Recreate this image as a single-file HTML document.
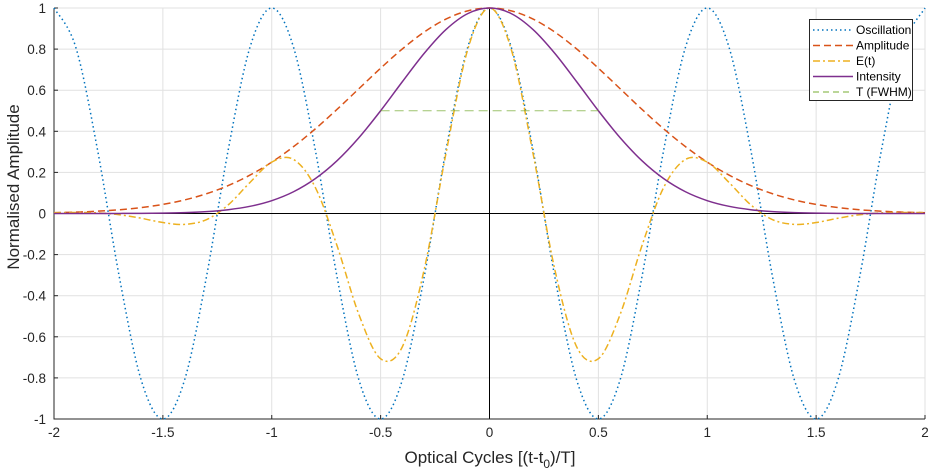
<!DOCTYPE html>
<html><head><meta charset="utf-8"><style>
html,body{margin:0;padding:0;background:#fff;}
svg{display:block;font-family:"Liberation Sans",sans-serif;}
</style></head><body>
<svg id="chart" width="936" height="474" viewBox="0 0 936 474" xmlns="http://www.w3.org/2000/svg">
<g id="grid"></g>
<g id="axes"></g>
<g id="series"></g>
<text x="490" y="463" font-size="17" fill="#262626" text-anchor="middle">Optical Cycles [(t-t<tspan font-size="12" dy="5">0</tspan><tspan dy="-5">)/T]</tspan></text>
<text transform="translate(19,187) rotate(-90)" font-size="17" fill="#262626" text-anchor="middle">Normalised Amplitude</text>
<g id="legend"></g>
</svg>
<script>
const tVals=[-2,-1.9,-1.8,-1.7,-1.6,-1.5,-1.4,-1.3,-1.2,-1.1,-1,-0.9,-0.8,-0.7,-0.6,-0.5,-0.4,-0.3,-0.2,-0.1,0,0.1,0.2,0.3,0.4,0.5,0.6,0.7,0.8,0.9,1,1.1,1.2,1.3,1.4,1.5,1.6,1.7,1.8,1.9,2];
const oscHalf=[1,0.809,0.309,-0.309,-0.809,-1,-0.809,-0.309,0.309,0.809,1,0.809,0.309,-0.309,-0.809,-1,-0.809,-0.309,0.309,0.809,1];
const ampHalf=[1,0.9862,0.9461,0.8827,0.8011,0.7071,0.6071,0.5069,0.4118,0.3253,0.25,0.1869,0.1359,0.0961,0.066,0.0442,0.0288,0.0182,0.0112,0.0067,0.0039];
const eHalf=[1,0.798,0.292,-0.273,-0.648,-0.707,-0.491,-0.157,0.127,0.263,0.25,0.151,0.042,-0.030,-0.053,-0.044,-0.023,-0.006,0.003,0.005,0.004];
const intHalf=[1,0.9727,0.895,0.7792,0.6417,0.5,0.3686,0.257,0.1696,0.1058,0.0625,0.0349,0.0185,0.0092,0.0044,0.002,0.0008,0.0003,0.0001,0,0];
const fwhmT=[-0.5,0.5];
const fwhmV=[0.5,0.5];
const xTicks=[-2,-1.5,-1,-0.5,0,0.5,1,1.5,2];
const yTicks=[-1,-0.8,-0.6,-0.4,-0.2,0,0.2,0.4,0.6,0.8,1];
function full(h){return h.slice(1).reverse().concat(h);}
const osc=full(oscHalf),amp=full(ampHalf),eT=full(eHalf),inten=full(intHalf);
const X0=54,X1=925,Y0=419,Y1=8;
const sx=t=>X0+(t+2)/4*(X1-X0);
const sy=v=>Y0-(v+1)/2*(Y0-Y1);
const NS='http://www.w3.org/2000/svg';
function mk(tag,attrs,parent){const e=document.createElementNS(NS,tag);for(const k in attrs)e.setAttribute(k,attrs[k]);parent.appendChild(e);return e;}
const grid=document.getElementById('grid'),axes=document.getElementById('axes'),ser=document.getElementById('series'),leg=document.getElementById('legend');
xTicks.forEach(t=>{
 const l=mk('line',{x1:sx(t),x2:sx(t),y1:Y1,y2:Y0,stroke:'#e1e1e1','stroke-width':1},grid);
 
 
 const tk=mk('line',{x1:sx(t),x2:sx(t),y1:Y0,y2:Y0-4,stroke:'#262626'},axes);
 
 
 const tx=mk('text',{x:sx(t),y:Y0+18,'font-size':13.5,fill:'#262626','text-anchor':'middle'},axes);
 tx.textContent=String(t);
 
 
});
yTicks.forEach(v=>{
 const l=mk('line',{x1:X0,x2:X1,y1:sy(v),y2:sy(v),stroke:'#e1e1e1','stroke-width':1},grid);
 
 
 const tk=mk('line',{x1:X0,x2:X0+4,y1:sy(v),y2:sy(v),stroke:'#262626'},axes);
 
 
 const tx=mk('text',{x:X0-8,y:sy(v)+5,'font-size':13.5,fill:'#262626','text-anchor':'end'},axes);
 tx.textContent=String(v);
 
 
});
let a;
a=mk('line',{x1:X0,x2:X1,y1:sy(0),y2:sy(0),stroke:'#000','stroke-width':1},axes);


a=mk('line',{x1:sx(0),x2:sx(0),y1:Y1,y2:Y0,stroke:'#000','stroke-width':1},axes);


a=mk('path',{d:`M${X0},${Y1}V${Y0}H${X1}`,fill:'none',stroke:'#262626','stroke-width':1},axes);


function spline(ts,vs){
 const p=ts.map((t,i)=>[sx(t),sy(vs[i])]);
 let d=`M${p[0][0]},${p[0][1]}`;
 for(let i=0;i<p.length-1;i++){
  const p0=p[Math.max(0,i-1)],p1=p[i],p2=p[i+1],p3=p[Math.min(p.length-1,i+2)];
  const c1=[p1[0]+(p2[0]-p0[0])/6,p1[1]+(p2[1]-p0[1])/6];
  const c2=[p2[0]-(p3[0]-p1[0])/6,p2[1]-(p3[1]-p1[1])/6];
  d+=`C${c1[0]},${c1[1]} ${c2[0]},${c2[1]} ${p2[0]},${p2[1]}`;
 }
 return d;
}
const styles=[
 {name:'oscillation-line',label:'Oscillation',vals:osc,color:'#0072bd',dash:'1.5 3'},
 {name:'amplitude-line',label:'Amplitude',vals:amp,color:'#d95319',dash:'7 4'},
 {name:'e-field-line',label:'E(t)',vals:eT,color:'#edb120',dash:'7 3 2 3'},
 {name:'intensity-line',label:'Intensity',vals:inten,color:'#7e2f8e',dash:''},
];
styles.forEach(s=>{
 const p=mk('path',{d:spline(tVals,s.vals),fill:'none',stroke:s.color,'stroke-width':1.5,'stroke-dasharray':s.dash},ser);
 
 
});
const fw=mk('line',{x1:sx(fwhmT[0]),x2:sx(fwhmT[1]),y1:sy(fwhmV[0]),y2:sy(fwhmV[1]),stroke:'#77ac30','stroke-width':1,'stroke-dasharray':'9 5',opacity:0.7},ser);


const lb=mk('rect',{x:809.5,y:19.5,width:103,height:81,fill:'#fff',stroke:'#262626','stroke-width':1},leg);


const entries=styles.map(s=>({label:s.label,color:s.color,dash:s.dash,w:1.5})).concat([{label:'T (FWHM)',color:'#77ac30',dash:'6 4',w:1}]);
entries.forEach((e,i)=>{
 const y=30+i*15.5;
 const g=mk('g',{},leg);
 
 
 mk('line',{x1:813,x2:853,y1:y,y2:y,stroke:e.color,'stroke-width':e.w,'stroke-dasharray':e.dash},g);
 const t=mk('text',{x:856,y:y+4,'font-size':12,fill:'#000'},g);
 t.textContent=e.label;
});
</script>
</body></html>
